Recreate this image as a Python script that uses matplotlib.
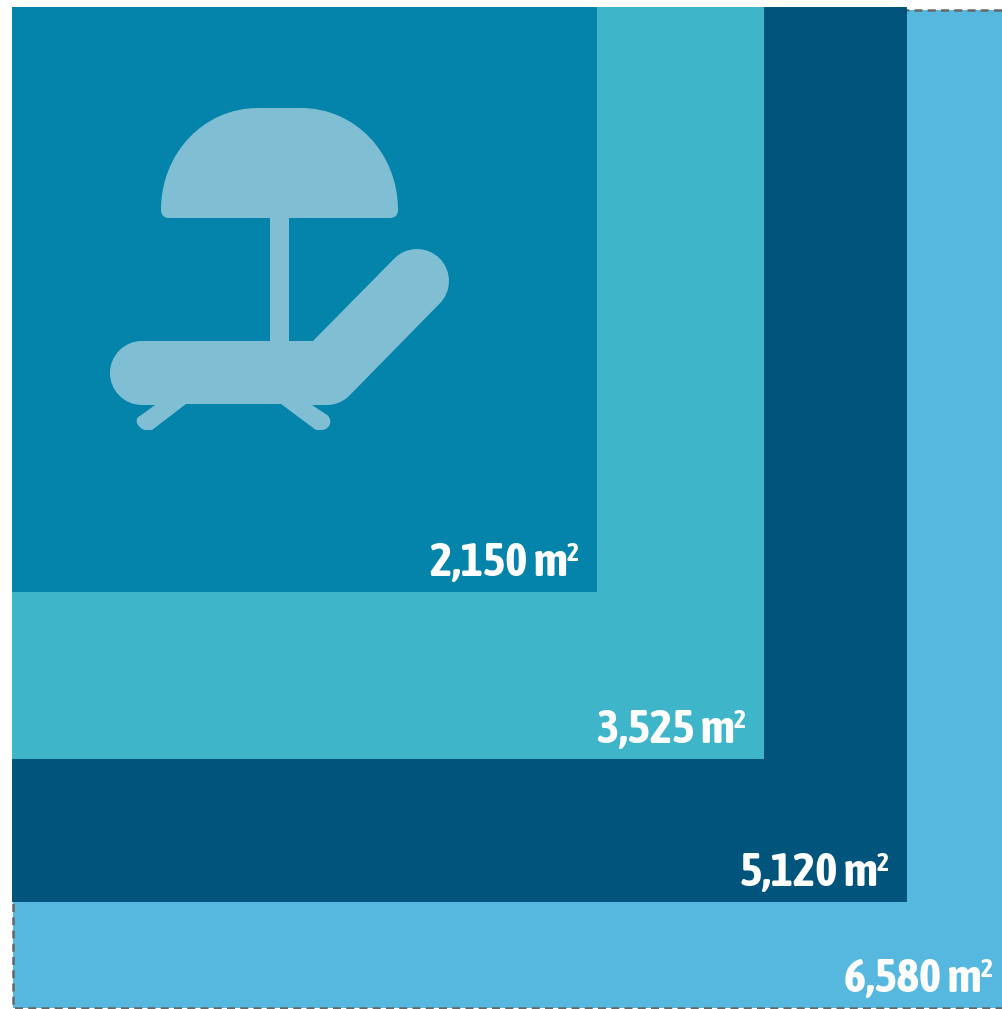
import matplotlib.pyplot as plt
import numpy as np
from matplotlib.patches import PathPatch, Rectangle
from matplotlib.path import Path

plt.rcParams['font.family'] = ['Asap Condensed', 'Roboto Condensed', 'Liberation Sans', 'DejaVu Sans']

areas = [6580, 5120, 3525, 2150]
area_labels = ['6,580', '5,120', '3,525', '2,150']
colors = ['#56B8DE', '#01547B', '#3EB5C9', '#0484AB']
icon_color = '#80BFD3'

# side length on the page grows with the root of the area, easing off slightly
side_scale = [-0.045, 17.61, -134.5]
sides = np.polyval(side_scale, np.sqrt(areas))

fig = plt.figure(figsize=(10.02, 10.09), dpi=100)
ax = fig.add_axes([0, 0, 1, 1])
ax.set_xlim(0, 1002)
ax.set_ylim(1009, 0)
ax.axis('off')

M, L, C = Path.MOVETO, Path.LINETO, Path.CURVE4


def shape(steps):
    verts, codes = [], []
    for code, *pts in steps:
        verts.extend(pts)
        codes.extend([code] * len(pts))
    verts.append(verts[0])
    codes.append(Path.CLOSEPOLY)
    return Path(verts, codes)


# squares, largest first, all hanging from the top left corner
for i, (side, color) in enumerate(zip(sides, colors)):
    x0, y0 = (13.5, 10) if i == 0 else (12, 6.5)
    ax.add_patch(Rectangle((x0, y0), side, side, facecolor=color, edgecolor='none', zorder=2 + i))
    if i == 0:
        # dashed outline of the biggest square
        ax.add_patch(Rectangle((x0, y0), side, side, fill=False, edgecolor='#666666', linewidth=1.8,
                               linestyle=(0, (3.2, 2.1)), zorder=2.5))
    lx = x0 + side - 18
    ly = y0 + side - 15.5
    ax.text(lx - 11.5, ly, area_labels[i] + ' m', color='white', fontsize=34, fontweight='bold',
            ha='right', va='baseline', zorder=10)
    ax.text(lx - 0.5, ly - 15.5, '2', color='white', fontsize=18.5, fontweight='bold',
            ha='right', va='baseline', zorder=10)

# parasol canopy and pole
canopy = shape([
    (M, (169, 218)), (C, (164, 218), (161, 215), (161, 210)),
    (C, (161, 153), (204, 108), (258, 108)),
    (L, (301, 108)),
    (C, (355, 108), (398, 153), (398, 210)),
    (C, (398, 215), (395, 218), (390, 218)),
])
pole = shape([(M, (270.5, 217)), (L, (289, 217)), (L, (289, 342)), (L, (270.5, 342))])

# lounger with its two legs
lounger = shape([
    (M, (142, 341)), (L, (313, 341)), (L, (394.4, 258.4)),
    (C, (406.9, 245.9), (427.1, 245.9), (439.6, 258.4)),
    (C, (452.1, 270.9), (452.1, 291.1), (439.6, 303.6)),
    (L, (348, 397)),
    (C, (342, 402), (335, 405), (327, 405)), (L, (312, 405)),
    (L, (327, 415)), (C, (331, 418), (331, 423), (329, 426)), (C, (327, 429), (324, 430), (321, 430)),
    (L, (316, 430)), (L, (281, 404)), (L, (186, 404)), (L, (152, 430)),
    (L, (145, 430)), (C, (141, 429), (138, 426), (137, 423)), (C, (136, 420), (137, 417), (140, 416)),
    (L, (155, 405)), (L, (142, 405)),
    (C, (124.3, 405), (110, 390.7), (110, 373)), (C, (110, 355.3), (124.3, 341), (142, 341)),
])

for part in [canopy, pole, lounger]:
    ax.add_patch(PathPatch(part, facecolor=icon_color, edgecolor='none', zorder=8))

fig.savefig('out.png', dpi=100)
